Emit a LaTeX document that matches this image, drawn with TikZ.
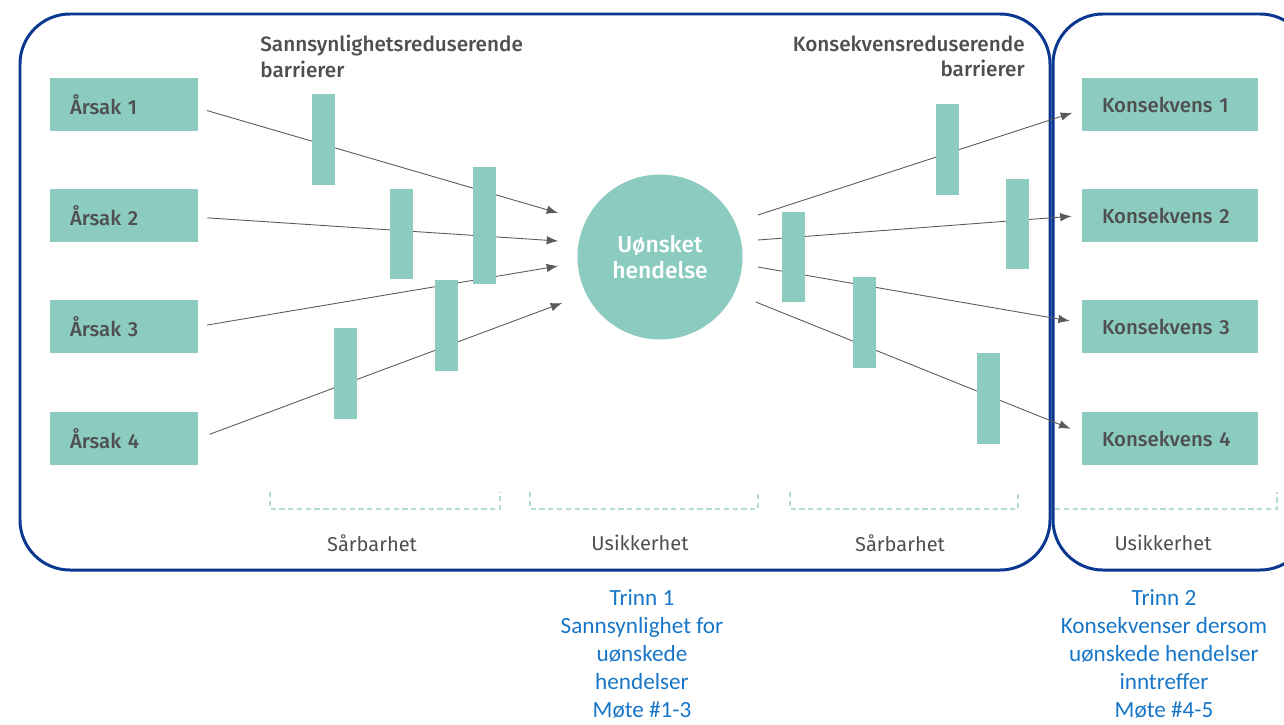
\documentclass[tikz,border=0pt]{standalone}
\usepackage{fontspec}
\setmainfont{Fira Sans}[BoldFont={Fira Sans Medium}]
\newfontfamily\notefont{Carlito}
\usetikzlibrary{arrows.meta,positioning,calc}

\definecolor{boxteal}{HTML}{8BCBC0}
\definecolor{framblue}{HTML}{0A3790}
\definecolor{labelgray}{HTML}{4F4F4F}
\definecolor{arrowgray}{HTML}{5A5A5A}
\definecolor{dashteal}{HTML}{B2DCD4}
\definecolor{noteblue}{HTML}{1876C8}

\begin{document}
\begin{tikzpicture}[x=0.02cm, y=-0.02cm]
	\tikzstyle{frame} = [
		draw=framblue, line width=1.7pt, rounded corners=1cm
	]
	\tikzstyle{box} = [
		rectangle, fill=boxteal, text=labelgray, minimum height=1.06cm,
		inner xsep=0.4cm, align=left, font=\fontsize{11.6}{13}\selectfont\bfseries
	]
	\tikzstyle{cause} = [
		box, text width=2.16cm
	]
	\tikzstyle{effect} = [
		box, text width=2.72cm
	]
	\tikzstyle{barrier} = [
		rectangle, fill=boxteal, minimum width=0.46cm, minimum height=1.81cm, inner sep=0pt
	]
	\tikzstyle{conn} = [
		draw=arrowgray, line width=0.5pt, -{Latex[length=2.3mm, width=1.7mm]}
	]
	\tikzstyle{bracket} = [
		draw=dashteal, line width=0.6pt, dash pattern=on 3pt off 2pt
	]
	\tikzstyle{caption} = [
		text=labelgray, font=\fontsize{11.4}{14.7}\selectfont
	]
	\tikzstyle{header} = [
		text=labelgray, inner sep=0pt, font=\fontsize{11.8}{14.7}\selectfont\bfseries
	]
	\tikzstyle{note} = [
		text=noteblue, align=center, font=\notefont\fontsize{13.2}{16}\selectfont
	]

	\clip (0,0) rectangle (1284,724);

	% Frames
	\draw[frame] (20,14) rectangle (1050,570);
	\draw[frame] (1053,14) rectangle (1310,570);

	% Headers
	\node [header, anchor=north west, align=left] (HeadLeft) at (260,35)
		{Sannsynlighetsreduserende\\barrierer};
	\node [header, anchor=north east, align=right] (HeadRight) at (1025,35)
		{Konsekvensreduserende\\barrierer};

	% Causes
	\node (Cause1) [cause] at (124,104.5) {Årsak 1};
	\node (Cause2) [cause] at (124,215.5) {Årsak 2};
	\node (Cause3) [cause] at (124,326.5) {Årsak 3};
	\node (Cause4) [cause] at (124,438.5) {Årsak 4};

	% Unwanted event
	\node (Event) [circle, fill=boxteal, minimum size=3.3cm, inner sep=0pt, text=white, align=center,
		font=\fontsize{13}{14.3}\selectfont\bfseries] at (660,257) {Uønsket\\hendelse}
		% Inputs links
		coordinate (Event_in1) at ($(Event.west)+(-19,-44)$) % oben
		coordinate (Event_in2) at ($(Event.west)+(-19,-16)$)
		coordinate (Event_in3) at ($(Event.west)+(-19,9)$)
		coordinate (Event_in4) at ($(Event.west)+(-15,46)$) % unten
		% Outputs rechts
		coordinate (Event_out1) at ($(Event.east)+(15,-42)$) % oben
		coordinate (Event_out2) at ($(Event.east)+(15,-17)$)
		coordinate (Event_out3) at ($(Event.east)+(15,10)$)
		coordinate (Event_out4) at ($(Event.east)+(13,45)$) % unten
	;

	% Consequences
	\node (Effect1) [effect] at (1170,104.5) {Konsekvens 1};
	\node (Effect2) [effect] at (1170,215.5) {Konsekvens 2};
	\node (Effect3) [effect] at (1170,326.5) {Konsekvens 3};
	\node (Effect4) [effect] at (1170,438.5) {Konsekvens 4};

	% Causes -> event
	\draw[conn, shorten <=0.18cm] ([yshift=-2pt]Cause1.east) -- (Event_in1);
	\draw[conn, shorten <=0.18cm] ([yshift=-1pt]Cause2.east) -- (Event_in2);
	\draw[conn, shorten <=0.18cm] (Cause3.east) -- (Event_in3);
	\draw[conn, shorten <=0.24cm] (Cause4.east) -- (Event_in4);

	% Event -> consequences
	\draw[conn, shorten >=0.2cm] (Event_out1) -- ([yshift=-3pt]Effect1.west);
	\draw[conn, shorten >=0.2cm] (Event_out2) -- (Effect2.west);
	\draw[conn, shorten >=0.24cm] (Event_out3) -- ([yshift=2pt]Effect3.west);
	\draw[conn, shorten >=0.24cm] (Event_out4) -- ([yshift=3pt]Effect4.west);

	% Barriers links
	\node (Barrier1) [barrier] at (323.5,139.5) {};
	\node (Barrier2) [barrier] at (401.5,234) {};
	\node (Barrier3) [barrier, minimum height=2.34cm] at (484.5,225.5) {};
	\node (Barrier4) [barrier] at (446.5,325.5) {};
	\node (Barrier5) [barrier] at (345.5,373.5) {};
	% Barriers rechts
	\node (Barrier6) [barrier] at (947.5,149.5) {};
	\node (Barrier7) [barrier] at (1017.5,224) {};
	\node (Barrier8) [barrier] at (793.5,257) {};
	\node (Barrier9) [barrier] at (864.5,322.5) {};
	\node (Barrier10) [barrier] at (988.5,398.5) {};

	% Brackets
	\draw[bracket] (270,492) -- (270,509) -- (500,509) -- (500,492);
	\draw[bracket] (530,492) -- (530,509) -- (758,509) -- (758,492);
	\draw[bracket] (790,492) -- (790,509) -- (1018,509) -- (1018,492);
	\draw[bracket] (1055,509) -- (1277,509) -- (1277,492);
	\node (Vuln1) [caption] at (372,543) {Sårbarhet};
	\node (Unc1) [caption] at (640,543) {Usikkerhet};
	\node (Vuln2) [caption] at (900,543) {Sårbarhet};
	\node (Unc2) [caption] at (1163,543) {Usikkerhet};

	% Steps
	\node (Step1) [note, anchor=north] at (642,583)
		{Trinn 1\\Sannsynlighet for\\uønskede\\hendelser\\Møte \#1-3};
	\node (Step2) [note, anchor=north] at (1164,583)
		{Trinn 2\\Konsekvenser dersom\\uønskede hendelser\\inntreffer\\Møte \#4-5};

\end{tikzpicture}
\end{document}
